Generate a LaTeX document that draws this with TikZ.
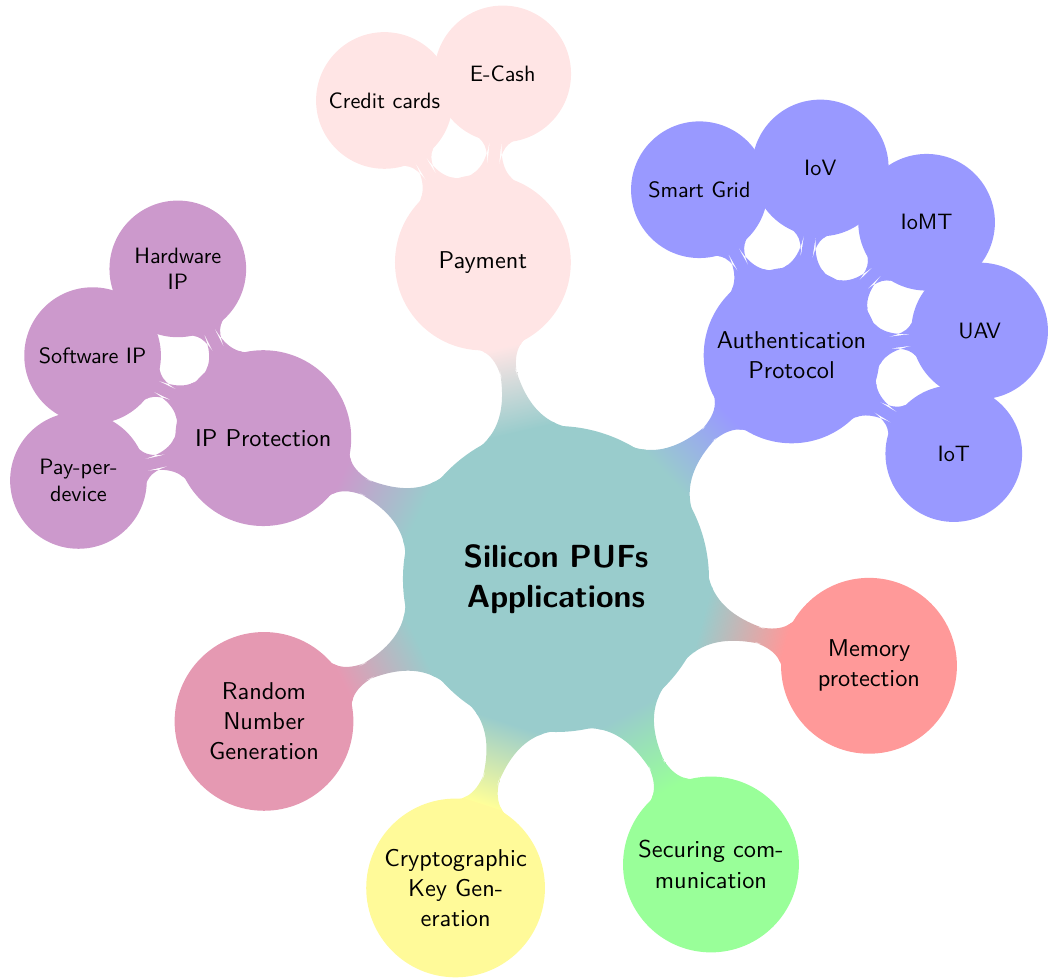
\documentclass[tikz,border=0pt,11pt]{standalone}
\usepackage{tikz}
\usetikzlibrary{mindmap}
\colorlet{hubteal}{teal!40}
\colorlet{paypink}{red!10}
\colorlet{authblue}{blue!40}
\colorlet{memred}{red!40}
\colorlet{commgreen}{green!40}
\colorlet{keyyellow}{yellow!40}
\colorlet{rngpurple}{purple!40}
\colorlet{ipviolet}{violet!40}

\begin{document}
\begin{tikzpicture}[mindmap,
    every node/.style={concept, font=\sffamily},
    hub/.style={minimum size=4.8cm, text width=3.5cm, font=\sffamily\Large\bfseries},
    branch/.style={minimum size=2.74cm, text width=2.4cm},
    leaf/.style={minimum size=2.12cm, text width=1.8cm, font=\sffamily\small},
    link/.style 2 args={circle connection bar switch color=from (#1) to (#2)}]
    \useasboundingbox (-8.797,-6.329) rectangle (7.801,9.161);
    % centre
    \node[hub, concept color=hubteal] (puf) at (0,0) {Silicon PUFs Applications};
    % first ring
    \node[branch, concept color=paypink] (pay) at (103:5.14) {Payment};
    \node[branch, concept color=authblue] (auth) at (43.5:5.14) {Authentication Protocol};
    \node[branch, concept color=memred] (mem) at (-15.5:5.14) {Memory protection};
    \node[branch, concept color=commgreen] (comm) at (-61.5:5.14) {Securing communication};
    \node[branch, concept color=keyyellow] (key) at (-108:5.14) {Cryptographic Key Generation};
    \node[branch, concept color=rngpurple] (rng) at (206:5.14) {Random Number Generation};
    \node[branch, concept color=ipviolet] (ip) at (154.3:5.14) {IP Protection};
    % second ring
    \node[leaf, concept color=paypink] (cards) at ([shift={(121.3:3)}]pay) {Credit cards};
    \node[leaf, concept color=paypink] (ecash) at ([shift={(84:3)}]pay) {E-Cash};
    \node[leaf, concept color=authblue] (grid) at ([shift={(119.1:3)}]auth) {Smart Grid};
    \node[leaf, concept color=authblue] (iov) at ([shift={(81.3:3)}]auth) {IoV};
    \node[leaf, concept color=authblue] (iomt) at ([shift={(44.6:3)}]auth) {IoMT};
    \node[leaf, concept color=authblue] (uav) at ([shift={(7.4:3)}]auth) {UAV};
    \node[leaf, concept color=authblue] (iot) at ([shift={(-31.2:3)}]auth) {IoT};
    \node[leaf, concept color=ipviolet] (hwip) at ([shift={(116.8:3)}]ip) {Hardware IP};
    \node[leaf, concept color=ipviolet] (swip) at ([shift={(154.2:3)}]ip) {Software IP};
    \node[leaf, concept color=ipviolet] (ppd) at ([shift={(192.9:3)}]ip) {Pay-per-device};
    % connection bars
    \path (puf) to[link={hubteal}{paypink}] (pay);
    \path (puf) to[link={hubteal}{authblue}] (auth);
    \path (puf) to[link={hubteal}{memred}] (mem);
    \path (puf) to[link={hubteal}{commgreen}] (comm);
    \path (puf) to[link={hubteal}{keyyellow}] (key);
    \path (puf) to[link={hubteal}{rngpurple}] (rng);
    \path (puf) to[link={hubteal}{ipviolet}] (ip);
    \path (pay) to[link={paypink}{paypink}] (cards);
    \path (pay) to[link={paypink}{paypink}] (ecash);
    \path (auth) to[link={authblue}{authblue}] (grid);
    \path (auth) to[link={authblue}{authblue}] (iov);
    \path (auth) to[link={authblue}{authblue}] (iomt);
    \path (auth) to[link={authblue}{authblue}] (uav);
    \path (auth) to[link={authblue}{authblue}] (iot);
    \path (ip) to[link={ipviolet}{ipviolet}] (hwip);
    \path (ip) to[link={ipviolet}{ipviolet}] (swip);
    \path (ip) to[link={ipviolet}{ipviolet}] (ppd);
\end{tikzpicture}
\end{document}
